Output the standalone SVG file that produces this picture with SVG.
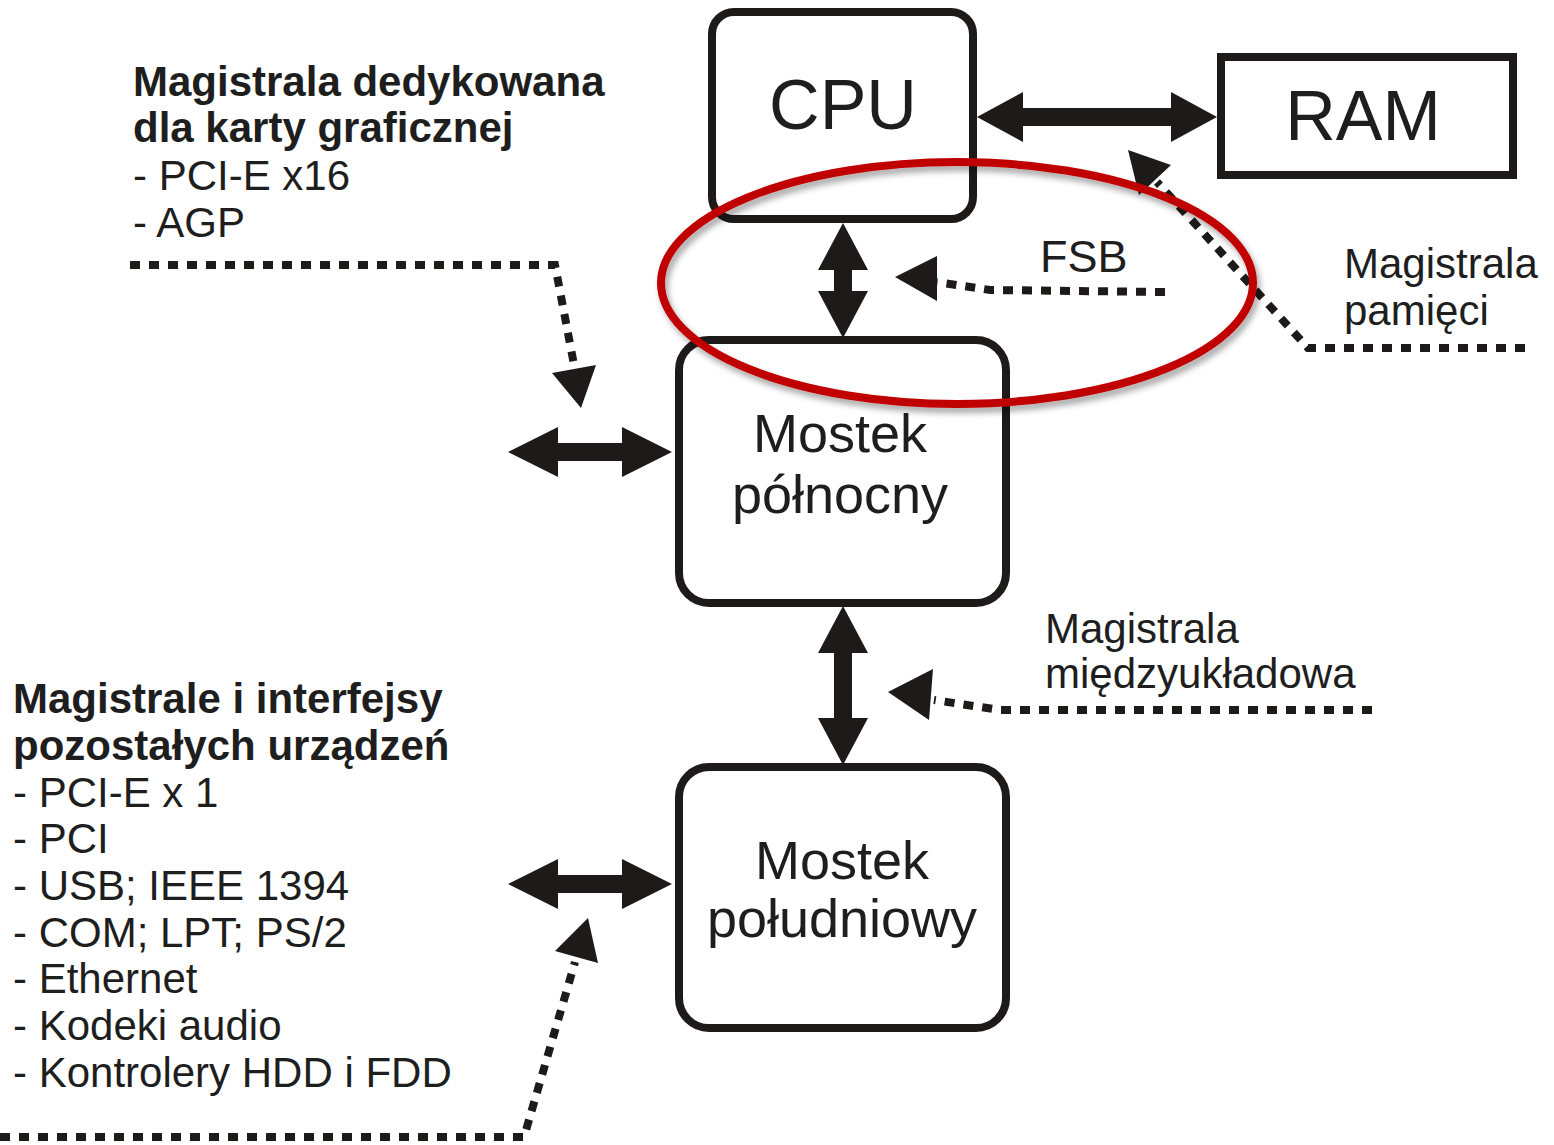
<svg xmlns="http://www.w3.org/2000/svg" width="1554" height="1145" viewBox="0 0 1554 1145">
<style>
  text { font-family: "Liberation Sans", Arial, sans-serif; fill: #1e1e1e; }
  .box { fill: #ffffff; stroke: #1e1a1a; stroke-width: 8; }
  .lbl { font-size: 54px; text-anchor: middle; }
  .big { font-size: 70px; text-anchor: middle; }
  .note { font-size: 42px; }
  .bold { font-size: 42px; font-weight: bold; }
  .dot { fill: none; stroke: #1e1a1a; stroke-width: 8; stroke-dasharray: 10 9; stroke-linejoin: miter; }
  .arrow { fill: #1e1a1a; stroke: none; }
</style>
<defs>
  <filter id="shadow" x="-10%" y="-10%" width="120%" height="130%">
    <feDropShadow dx="3" dy="5" stdDeviation="3" flood-color="#000000" flood-opacity="0.35"/>
  </filter>
</defs>
<rect width="1554" height="1145" fill="#ffffff"/>

<g id="connectors">
  <!-- solid double arrows -->
  <path class="arrow" d="M977,117 L1023,92 L1023,108 L1171,108 L1171,92 L1217,117 L1171,142 L1171,126 L1023,126 L1023,142 Z"/>
  <path class="arrow" d="M843,223 L868,270 L852,270 L852,291 L868,291 L843,338 L818,291 L834,291 L834,270 L818,270 Z"/>
  <path class="arrow" d="M843,606 L868,653 L852,653 L852,718 L868,718 L843,765 L818,718 L834,718 L834,653 L818,653 Z"/>
  <path class="arrow" d="M508,452 L558,427 L558,443 L622,443 L622,427 L672,452 L622,477 L622,461 L558,461 L558,477 Z"/>
  <path class="arrow" d="M508,884 L558,859 L558,875 L622,875 L622,859 L672,884 L622,909 L622,893 L558,893 L558,909 Z"/>

  <!-- dotted pointers -->
  <polyline class="dot" points="130,265 555,265 575,370"/>
  <polygon class="arrow" points="581,408 552,373 596,365"/>

  <polyline class="dot" points="1165,292 990,290 937,282"/>
  <polygon class="arrow" points="895,277 937,256 937,301"/>

  <polyline class="dot" points="1525,348 1308,348 1157,182"/>
  <polygon class="arrow" points="1128,150 1171,165 1139,195"/>

  <polyline class="dot" points="1372,710 1000,710 934,700"/>
  <polygon class="arrow" points="888,692 933,669 929,720"/>

  <polyline class="dot" points="0,1137 524,1137 575,962"/>
  <polygon class="arrow" points="588,918 598,963 555,951"/>
</g>

<g id="cpu">
  <rect class="box" x="712" y="12" width="261" height="207" rx="22"/>
  <text class="big" x="843" y="129">CPU</text>
</g>
<g id="ram">
  <rect class="box" x="1221" y="57" width="292" height="118"/>
  <text class="big" x="1363" y="140">RAM</text>
</g>
<g id="northbridge">
  <rect class="box" x="679" y="340" width="327" height="263" rx="30"/>
  <text class="lbl" x="840" y="452">Mostek</text>
  <text class="lbl" x="840" y="513">północny</text>
</g>
<g id="southbridge">
  <rect class="box" x="679" y="767" width="327" height="261" rx="30"/>
  <text class="lbl" x="842" y="879">Mostek</text>
  <text class="lbl" x="842" y="937">południowy</text>
</g>

<g id="fsb-label">
  <text x="1040" y="272" style="font-size:45px">FSB</text>
</g>
<g id="membus-label">
  <text class="note" x="1344" y="278">Magistrala</text>
  <text class="note" x="1344" y="325">pamięci</text>
</g>
<g id="interchip-label">
  <text class="note" x="1045" y="643">Magistrala</text>
  <text class="note" x="1045" y="688">międzyukładowa</text>
</g>
<g id="graphics-label">
  <text class="bold" x="133" y="96">Magistrala dedykowana</text>
  <text class="bold" x="133" y="142">dla karty graficznej</text>
  <text class="note" x="133" y="190">- PCI-E x16</text>
  <text class="note" x="133" y="237">- AGP</text>
</g>
<g id="other-label">
  <text class="bold" x="13" y="713">Magistrale i interfejsy</text>
  <text class="bold" x="13" y="760">pozostałych urządzeń</text>
  <text class="note" x="13" y="807">- PCI-E x 1</text>
  <text class="note" x="13" y="853">- PCI</text>
  <text class="note" x="13" y="900">- USB; IEEE 1394</text>
  <text class="note" x="13" y="947">- COM; LPT; PS/2</text>
  <text class="note" x="13" y="993">- Ethernet</text>
  <text class="note" x="13" y="1040">- Kodeki audio</text>
  <text class="note" x="13" y="1087">- Kontrolery HDD i FDD</text>
</g>

<g id="highlight">
  <ellipse cx="957" cy="283" rx="296" ry="121" fill="none" stroke="#c00000" stroke-width="8" filter="url(#shadow)"/>
</g>
</svg>
